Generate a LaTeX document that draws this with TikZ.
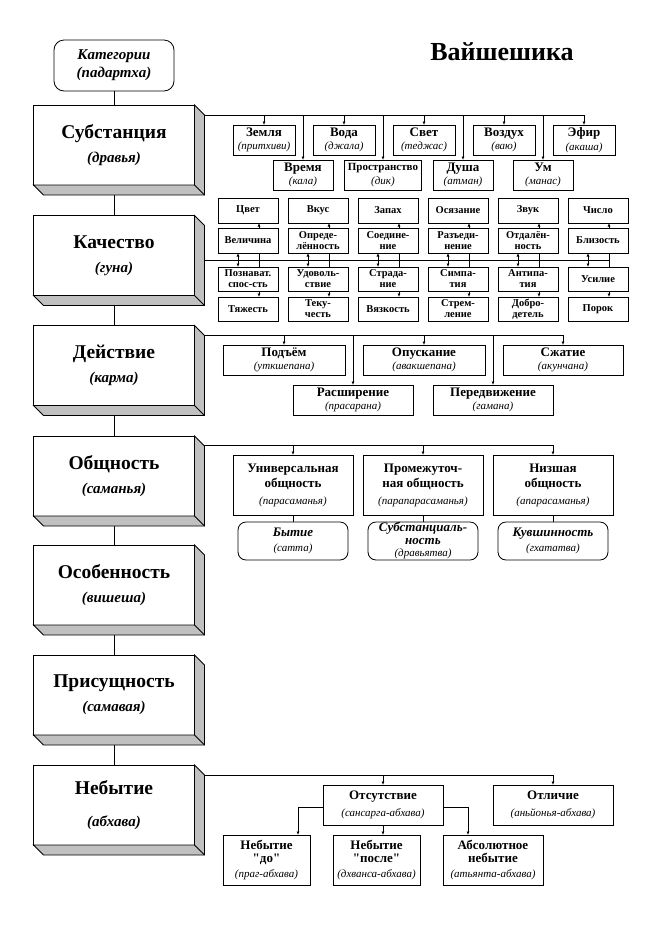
\documentclass[tikz,border=0pt]{standalone}
\usepackage{fontspec}
\setmainfont{Liberation Serif}
\usetikzlibrary{arrows.meta,backgrounds,calc}
\definecolor{sidegray}{RGB}{192,192,192}
\newcommand{\sktmain}[1]{{\fontsize{15}{24}\selectfont\itshape #1}}
\newcommand{\skt}[1]{{\fontsize{11}{12}\selectfont\mdseries\itshape #1}}

\begin{document}
\begin{tikzpicture}[x=1pt,y=-1pt,line width=0.8pt,
    arr/.style={-{Latex[length=3.5pt,width=3pt]}},
    dblarr/.style={{Latex[length=3.5pt,width=3pt]}-{Latex[length=3.5pt,width=3pt]}},
    mainbox/.style={draw,fill=white,minimum width=161,minimum height=80,inner sep=0,outer sep=0,align=center,font=\fontsize{19.5}{24}\selectfont\bfseries},
    smallbox/.style={draw,fill=white,inner sep=0,outer sep=0,align=center,font=\fontsize{13}{13.5}\selectfont\bfseries},
    qualbox/.style={draw,fill=white,minimum width=60,inner sep=0,outer sep=0,align=center,font=\fontsize{10.5}{11}\selectfont\bfseries},
    roundbox/.style={draw,fill=white,rounded corners=8pt,minimum width=110,minimum height=38,inner sep=0,outer sep=0,align=center,font=\fontsize{13}{12.5}\selectfont\bfseries\itshape}]

      \useasboundingbox (0,0) rectangle (659,927);

      \node[font=\fontsize{26}{30}\selectfont\bfseries] (title) at (502,52) {Вайшешика};
      \node[draw,rounded corners=10pt,minimum width=120,minimum height=51,inner sep=0,outer sep=0,align=center,font=\fontsize{15}{18}\selectfont\bfseries\itshape] (cat) at (114,65.5) {Категории\\(падартха)};

      % main categories
      \node[mainbox] (sub)  at (114,145)   {Субстанция\\\sktmain{(дравья)}};
      \node[mainbox] (kach) at (114,255.5) {Качество\\\sktmain{(гуна)}};
      \node[mainbox] (deis) at (114,365.5) {Действие\\\sktmain{(карма)}};
      \node[mainbox] (obsh) at (114,476)   {Общность\\\sktmain{(саманья)}};
      \node[mainbox] (osob) at (114,585)   {Особенность\\\sktmain{(вишеша)}};
      \node[mainbox] (pris) at (114,695)   {Присущность\\\sktmain{(самавая)}};
      \node[mainbox] (neb)  at (114,805)   {Небытие\\[8pt]\sktmain{(абхава)}};

      \foreach \n in {sub,kach,deis,obsh,osob,pris,neb} {
        \filldraw[fill=sidegray] (\n.north east) -- ++(10,10) -- ++(0,80) -- ++(-161,0) -- ++(-10,-10) -- (\n.south east) -- cycle;
        \draw (\n.south east) -- ++(10,10);
      }

      \begin{scope}[on background layer]
        \draw (cat.south) -- (neb.north);
      \end{scope}

      % substance
      \coordinate (subL) at (204,115);
      \coordinate (subR) at (584,115);
      \draw (subL) -- (subR);

      \node[smallbox,minimum width=62,minimum height=30] (zem)  at (264,140) {Земля\\\skt{(притхиви)}};
      \node[smallbox,minimum width=62,minimum height=30] (voda) at (344,140) {Вода\\\skt{(джала)}};
      \node[smallbox,minimum width=62,minimum height=30] (svet) at (424,140) {Свет\\\skt{(теджас)}};
      \node[smallbox,minimum width=62,minimum height=30] (vozd) at (504,140) {Воздух\\\skt{(ваю)}};
      \node[smallbox,minimum width=62,minimum height=30] (efir) at (584,140) {Эфир\\\skt{(акаша)}};

      \node[smallbox,minimum width=60,minimum height=30] (vrem)  at (303,175) {Время\\\skt{(кала)}};
      \node[smallbox,minimum width=77,minimum height=30,font=\fontsize{11}{13.5}\selectfont\bfseries] (prost) at (383,175) {Пространство\\\skt{(дик)}};
      \node[smallbox,minimum width=60,minimum height=30] (dusha) at (463,175) {Душа\\\skt{(атман)}};
      \node[smallbox,minimum width=60,minimum height=30] (um)    at (543,175) {Ум\\\skt{(манас)}};

      \foreach \n in {zem,voda,svet,vozd,efir,vrem,prost,dusha,um}
        \draw[arr] (subL -| \n) -- (\n);

      % quality
      \coordinate (qL) at (204,260);
      \coordinate (qR) at (609,260);
      \draw (qL) -- (qR);

      \foreach \i/\x/\ta/\tb/\tc/\td in {1/248/Цвет/Величина/{Познават.\\спос-сть}/Тяжесть,
          2/318/Вкус/{Опреде-\\лённость}/{Удоволь-\\ствие}/{Теку-\\честь},
          3/388/Запах/{Соедине-\\ние}/{Страда-\\ние}/Вязкость,
          4/458/Осязание/{Разъеди-\\нение}/{Симпа-\\тия}/{Стрем-\\ление},
          5/528/Звук/{Отдалён-\\ность}/{Антипа-\\тия}/{Добро-\\детель},
          6/598/Число/Близость/Усилие/Порок} {
        \node[qualbox,minimum height=25] (qa\i) at (\x,210.5) {\ta};
        \node[qualbox,minimum height=25] (qb\i) at (\x,240.5) {\tb};
        \node[qualbox,minimum height=24] (qc\i) at (\x,279) {\tc};
        \node[qualbox,minimum height=24] (qd\i) at (\x,309) {\td};
        \draw[arr] ([xshift=11]qb\i.north) -- ([xshift=11]qa\i.south);
        \draw ([xshift=11]qb\i.south) -- ([xshift=11]qc\i.north);
        \draw[dblarr] ([xshift=-10]qb\i.south) -- ([xshift=-10]qc\i.north);
        \draw[arr] ([xshift=11]qc\i.south) -- ([xshift=11]qd\i.north);
      }

      % action
      \coordinate (dL) at (204,335);
      \coordinate (dR) at (563,335);
      \draw (dL) -- (dR);

      \node[smallbox,minimum width=122,minimum height=30] (podj)  at (284,360) {Подъём\\\skt{(уткшепана)}};
      \node[smallbox,minimum width=122,minimum height=30] (opusk) at (424,360) {Опускание\\\skt{(авакшепана)}};
      \node[smallbox,minimum width=120,minimum height=30] (szhat) at (563,360) {Сжатие\\\skt{(акунчана)}};
      \node[smallbox,minimum width=120,minimum height=30] (rassh) at (353,400) {Расширение\\\skt{(прасарана)}};
      \node[smallbox,minimum width=120,minimum height=30] (pered) at (493,400) {Передвижение\\\skt{(гамана)}};

      \foreach \n in {podj,rassh,opusk,pered,szhat}
        \draw[arr] (dL -| \n) -- (\n);

      % generality
      \coordinate (oL) at (204,445);
      \coordinate (oR) at (553,445);
      \draw (oL) -- (oR);

      \node[smallbox,minimum width=120,minimum height=60,font=\fontsize{13}{15}\selectfont\bfseries] (univ)  at (293,485) {Универсальная\\общность\\[2pt]\skt{(парасаманья)}};
      \node[smallbox,minimum width=120,minimum height=60,font=\fontsize{13}{15}\selectfont\bfseries] (prom)  at (423,485) {Промежуточ-\\ная общность\\[2pt]\skt{(парапарасаманья)}};
      \node[smallbox,minimum width=120,minimum height=60,font=\fontsize{13}{15}\selectfont\bfseries] (nizsh) at (553,485) {Низшая\\общность\\[2pt]\skt{(апарасаманья)}};

      \node[roundbox] (byt)    at (293,541) {Бытие\\[2pt]\skt{(сатта)}};
      \node[roundbox] (substn) at (423,541) {Субстанциаль-\\ность\\\skt{(дравьятва)}};
      \node[roundbox] (kuvsh)  at (553,541) {Кувшинность\\[2pt]\skt{(гхататва)}};

      \foreach \n in {univ,prom,nizsh}
        \draw[arr] (oL -| \n) -- (\n);
      \draw (univ) -- (byt);
      \draw (prom) -- (substn);
      \draw (nizsh) -- (kuvsh);

      % non-being
      \coordinate (nL) at (204,775);
      \coordinate (nR) at (553,775);
      \draw (nL) -- (nR);

      \node[smallbox,minimum width=120,minimum height=40] (otsut)  at (383,805) {Отсутствие\\[3pt]\skt{(сансарга-абхава)}};
      \node[smallbox,minimum width=120,minimum height=40] (otlich) at (553,805) {Отличие\\[3pt]\skt{(аньйонья-абхава)}};

      \node[smallbox,minimum width=87,minimum height=50]  (prag)  at (266.5,860) {Небытие\\\textquotedbl до\textquotedbl\\[1pt]\skt{(праг-абхава)}};
      \node[smallbox,minimum width=87,minimum height=50]  (dhvan) at (376.5,860) {Небытие\\\textquotedbl после\textquotedbl\\[1pt]\skt{(дхванса-абхава)}};
      \node[smallbox,minimum width=100,minimum height=50] (atyan) at (493,860)   {Абсолютное\\небытие\\[1pt]\skt{(атьянта-абхава)}};

      \draw[arr] (nL -| otsut) -- (otsut);
      \draw[arr] (nL -| otlich) -- (otlich);

      \coordinate (pragT) at (298,835);
      \coordinate (atyanT) at (468,835);
      \draw[arr] ([yshift=-2pt]otsut.west) -| (pragT);
      \draw[arr] (otsut.south) -- (otsut.south |- dhvan.north);
      \draw[arr] ([yshift=-2pt]otsut.east) -| (atyanT);

\end{tikzpicture}
\end{document}
